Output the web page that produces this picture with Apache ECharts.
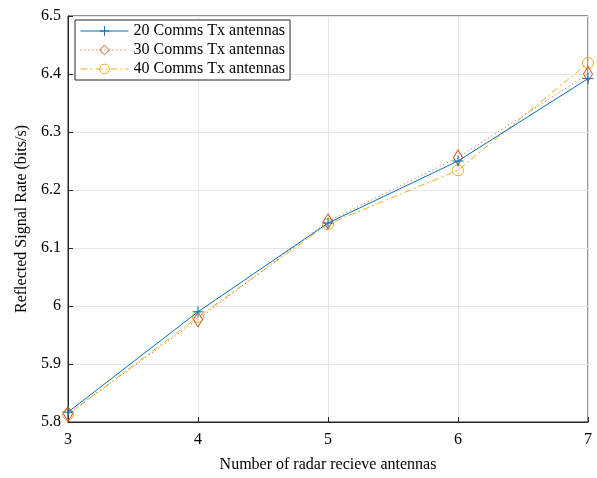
<!DOCTYPE html>
<html>
<head>
<meta charset="utf-8">
<script src="https://cdn.jsdelivr.net/npm/echarts@6/dist/echarts.min.js"></script>
<style>
  html, body { margin: 0; padding: 0; background: #ffffff; }
  #chart { width: 597px; height: 478px; }
</style>
</head>
<body>
<div id="chart"></div>
<script>
  // number of radar receive antennas
  var antennas = [3, 4, 5, 6, 7];
  // reflected signal rate (bits/s)
  var tx20 = [5.817, 5.990, 6.143, 6.250, 6.392];
  var tx30 = [5.814, 5.977, 6.146, 6.256, 6.400];
  var tx40 = [5.813, 5.981, 6.141, 6.234, 6.419];
  var seriesNames = ['20 Comms Tx antennas', '30 Comms Tx antennas', '40 Comms Tx antennas'];
  var colors = ['#0072BD', '#D95319', '#EDB120'];
  var dashes = ['solid', [1, 3], [7, 3, 2, 3]];

  var font = 'Liberation Serif, Times New Roman, serif';
  var plus = 'path://M0,5 L10,5 M5,0 L5,10';

  function pairs(vals) {
    return antennas.map(function (a, i) { return [a, vals[i]]; });
  }

  var chart = echarts.init(document.getElementById('chart'));
  var options = {
    animation: false,
    backgroundColor: '#ffffff',
    textStyle: { fontFamily: font },
    grid: {
      left: 68, right: 9, top: 16, bottom: 55,
      show: true, borderColor: '#262626', borderWidth: 1
    },
    legend: {
      orient: 'vertical',
      left: 75, top: 20,
      itemWidth: 48, itemHeight: 12, itemGap: 3,
      padding: [3, 5, 3, 5],
      backgroundColor: '#ffffff',
      borderColor: '#262626', borderWidth: 1,
      textStyle: { fontFamily: font, fontSize: 16, color: '#000' },
      data: seriesNames.map(function (n, i) {
        return {
          name: n,
          lineStyle: { color: colors[i], type: dashes[i], width: 1 },
          itemStyle: { color: 'transparent', borderColor: colors[i], borderWidth: 1 }
        };
      })
    },
    xAxis: {
      type: 'value',
      min: 3, max: 7, interval: 1,
      name: 'Number of radar recieve antennas',
      nameLocation: 'middle', nameGap: 35,
      nameTextStyle: { fontFamily: font, fontSize: 16, color: '#000' },
      axisLine: { lineStyle: { color: '#262626' } },
      axisTick: { inside: true, length: 5, lineStyle: { color: '#262626' } },
      axisLabel: { fontFamily: font, fontSize: 16, color: '#000', margin: 10 },
      splitLine: { show: true, lineStyle: { color: '#e6e6e6' } }
    },
    yAxis: {
      type: 'value',
      min: 5.8, max: 6.5, interval: 0.1,
      name: 'Reflected Signal Rate (bits/s)',
      nameLocation: 'middle', nameGap: 36,
      nameTextStyle: { fontFamily: font, fontSize: 16, color: '#000' },
      axisLine: { show: true, lineStyle: { color: '#262626' } },
      axisTick: { show: true, inside: true, length: 5, lineStyle: { color: '#262626' } },
      axisLabel: {
        fontFamily: font, fontSize: 16, color: '#000', margin: 7,
        formatter: function (v) { return String(Math.round(v * 10) / 10); }
      },
      splitLine: { show: true, lineStyle: { color: '#e6e6e6' } }
    },
    series: [
      {
        name: seriesNames[0], type: 'line', data: pairs(tx20),
        symbol: plus, symbolSize: 11,
        lineStyle: { color: colors[0], width: 1 },
        itemStyle: { color: 'transparent', borderColor: colors[0], borderWidth: 1 },
        z: 3
      },
      {
        name: seriesNames[1], type: 'line', data: pairs(tx30),
        symbol: 'diamond', symbolSize: [9, 15],
        lineStyle: { color: colors[1], width: 1, type: dashes[1] },
        itemStyle: { color: 'transparent', borderColor: colors[1], borderWidth: 1 },
        z: 2
      },
      {
        name: seriesNames[2], type: 'line', data: pairs(tx40),
        symbol: 'circle', symbolSize: 11,
        lineStyle: { color: colors[2], width: 1, type: dashes[2] },
        itemStyle: { color: 'transparent', borderColor: colors[2], borderWidth: 1 },
        z: 1
      }
    ]
  };
  chart.setOption(options);
</script>
</body>
</html>
